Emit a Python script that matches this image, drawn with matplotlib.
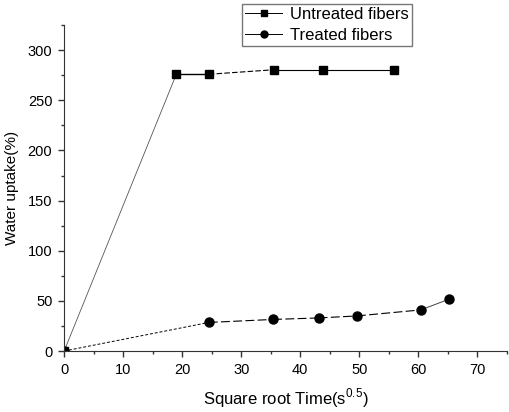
import matplotlib
matplotlib.use("Agg")
import matplotlib.pyplot as plt
from matplotlib.ticker import MultipleLocator
from matplotlib.lines import Line2D

plt.rcParams['font.family'] = ['Liberation Sans', 'DejaVu Sans']
plt.rcParams['mathtext.fontset'] = 'custom'
plt.rcParams['mathtext.rm'] = 'Liberation Sans'

untreated_x = [0, 19.0, 24.5, 35.5, 43.8, 55.8]
untreated_y = [0, 276, 276, 280.5, 280.5, 280.5]
treated_x = [0, 24.5, 35.4, 43.1, 49.6, 60.4, 65.1]
treated_y = [0, 28.5, 31.5, 33, 35, 41, 51.5]

fig = plt.figure(figsize=(5.09, 4.12), dpi=100)
ax = fig.add_axes([0.126, 0.148, 0.87, 0.791])

# segment styles (appearance in reference)
u_styles = [('-', 0.6, '#555555'), ('-', 1.0, 'black'), ((0, (5, 2)), 0.8, 'black'),
            ('-', 0.8, 'black'), ('-', 0.8, 'black')]
t_styles = [((0, (3, 2)), 0.7, 'black'), ((0, (8, 3)), 0.8, 'black'), ((0, (8, 3)), 0.8, 'black'),
            ((0, (8, 3)), 0.8, 'black'), ((0, (8, 3)), 0.8, 'black'), ('-', 0.7, '#444444')]
for i, (ls, lw, c) in enumerate(u_styles):
    ax.plot(untreated_x[i:i+2], untreated_y[i:i+2], linestyle=ls, lw=lw, color=c)
for i, (ls, lw, c) in enumerate(t_styles):
    ax.plot(treated_x[i:i+2], treated_y[i:i+2], linestyle=ls, lw=lw, color=c)
ax.plot(untreated_x, untreated_y, linestyle='none', marker='s', ms=6, color='black')
ax.plot(treated_x, treated_y, linestyle='none', marker='o', ms=6.5, color='black')

ax.set_xlim(0, 75)
ax.set_ylim(0, 325)
ax.xaxis.set_major_locator(MultipleLocator(10))
ax.xaxis.set_minor_locator(MultipleLocator(5))
ax.yaxis.set_major_locator(MultipleLocator(50))
ax.yaxis.set_minor_locator(MultipleLocator(25))
ax.spines['top'].set_visible(False)
ax.spines['right'].set_visible(False)
for s in ('left', 'bottom'):
    ax.spines[s].set_color('#333333')
ax.tick_params(which='major', direction='out', length=4.5, width=1, labelsize=10.5,
               color='#333333', pad=4)
ax.tick_params(which='minor', direction='out', length=2.5, width=1, color='#333333')
ax.set_xlabel('Square root Time(s$^{0.5}$)', fontsize=12, labelpad=7)
ax.set_ylabel('Water uptake(%)', fontsize=11, labelpad=6)

handles = [Line2D([], [], color='black', lw=0.7, marker='s', ms=4.5),
           Line2D([], [], color='black', lw=0.7, marker='o', ms=5)]
leg = fig.legend(handles, ['Untreated fibers', 'Treated fibers'], loc='lower left',
                 bbox_to_anchor=(242/509, 1 - 46/412), fontsize=12, frameon=True,
                 fancybox=False, borderpad=0.2, labelspacing=0.35, handlelength=2.2,
                 handletextpad=0.5, borderaxespad=0)
leg.get_frame().set_edgecolor('#555555')
leg.get_frame().set_linewidth(1.0)

fig.savefig('out.png', dpi=100)
